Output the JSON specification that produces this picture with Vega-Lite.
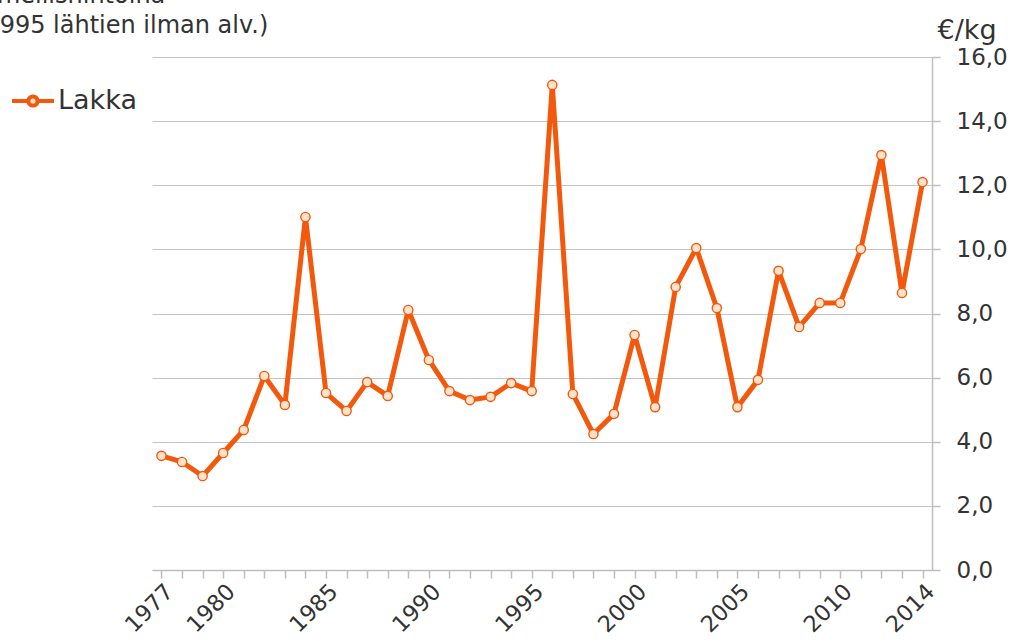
{
  "$schema": "https://vega.github.io/schema/vega-lite/v6.json",
  "autosize": {"type": "none"},
  "width": 780,
  "height": 513,
  "padding": {"left": 152, "top": 57, "right": 82, "bottom": 72},
  "background": "white",
  "config": {
    "font": "DejaVu Sans",
    "view": {"stroke": null}
  },
  "title": {
    "text": ["nimellishintoina", "(1995 lähtien ilman alv.)"],
    "anchor": "start",
    "frame": "group",
    "dx": -177,
    "offset": -22,
    "fontSize": 24,
    "fontWeight": "normal",
    "color": "#333333",
    "lineHeight": 30
  },
  "data": {
    "values": [
      {"year": 1977, "price": 3.56, "series": "Lakka"},
      {"year": 1978, "price": 3.37, "series": "Lakka"},
      {"year": 1979, "price": 2.93, "series": "Lakka"},
      {"year": 1980, "price": 3.65, "series": "Lakka"},
      {"year": 1981, "price": 4.37, "series": "Lakka"},
      {"year": 1982, "price": 6.05, "series": "Lakka"},
      {"year": 1983, "price": 5.15, "series": "Lakka"},
      {"year": 1984, "price": 11.01, "series": "Lakka"},
      {"year": 1985, "price": 5.52, "series": "Lakka"},
      {"year": 1986, "price": 4.96, "series": "Lakka"},
      {"year": 1987, "price": 5.86, "series": "Lakka"},
      {"year": 1988, "price": 5.43, "series": "Lakka"},
      {"year": 1989, "price": 8.11, "series": "Lakka"},
      {"year": 1990, "price": 6.55, "series": "Lakka"},
      {"year": 1991, "price": 5.58, "series": "Lakka"},
      {"year": 1992, "price": 5.30, "series": "Lakka"},
      {"year": 1993, "price": 5.40, "series": "Lakka"},
      {"year": 1994, "price": 5.83, "series": "Lakka"},
      {"year": 1995, "price": 5.58, "series": "Lakka"},
      {"year": 1996, "price": 15.13, "series": "Lakka"},
      {"year": 1997, "price": 5.49, "series": "Lakka"},
      {"year": 1998, "price": 4.24, "series": "Lakka"},
      {"year": 1999, "price": 4.87, "series": "Lakka"},
      {"year": 2000, "price": 7.33, "series": "Lakka"},
      {"year": 2001, "price": 5.08, "series": "Lakka"},
      {"year": 2002, "price": 8.83, "series": "Lakka"},
      {"year": 2003, "price": 10.04, "series": "Lakka"},
      {"year": 2004, "price": 8.17, "series": "Lakka"},
      {"year": 2005, "price": 5.08, "series": "Lakka"},
      {"year": 2006, "price": 5.93, "series": "Lakka"},
      {"year": 2007, "price": 9.33, "series": "Lakka"},
      {"year": 2008, "price": 7.58, "series": "Lakka"},
      {"year": 2009, "price": 8.33, "series": "Lakka"},
      {"year": 2010, "price": 8.33, "series": "Lakka"},
      {"year": 2011, "price": 10.01, "series": "Lakka"},
      {"year": 2012, "price": 12.94, "series": "Lakka"},
      {"year": 2013, "price": 8.64, "series": "Lakka"},
      {"year": 2014, "price": 12.10, "series": "Lakka"}
    ]
  },
  "encoding": {
    "x": {
      "field": "year",
      "type": "ordinal",
      "scale": {"type": "point", "padding": 0.46},
      "axis": {
        "title": null,
        "domainColor": "#bfbfbf",
        "domainWidth": 1.5,
        "tickColor": "#bfbfbf",
        "tickSize": 8,
        "tickWidth": 1.5,
        "labelAngle": -45,
        "labelAlign": "right",
        "labelBaseline": "top",
        "labelFontSize": 22.5,
        "labelColor": "#333333",
        "labelPadding": 2,
        "labelOverlap": false,
        "labelExpr": "(datum.value == 1977 || datum.value == 2014 || datum.value % 5 == 0) ? datum.label : ''"
      }
    },
    "y": {
      "field": "price",
      "type": "quantitative",
      "scale": {"domain": [0, 16], "nice": false, "zero": true},
      "axis": {
        "orient": "right",
        "values": [0, 2, 4, 6, 8, 10, 12, 14, 16],
        "title": "€/kg",
        "titleAngle": 0,
        "titleAlign": "left",
        "titleBaseline": "alphabetic",
        "titleX": 5,
        "titleY": -19,
        "titleFontSize": 27,
        "titleFontWeight": "normal",
        "titleColor": "#333333",
        "grid": true,
        "gridColor": "#c4c4c4",
        "gridWidth": 1.2,
        "domainColor": "#bfbfbf",
        "domainWidth": 1.5,
        "tickColor": "#bfbfbf",
        "tickSize": 8,
        "tickWidth": 1.5,
        "labelFontSize": 23,
        "labelColor": "#333333",
        "labelPadding": 16,
        "labelExpr": "replace(format(datum.value, '.1f'), '.', ',')"
      }
    }
  },
  "layer": [
    {
      "mark": {"type": "line", "strokeWidth": 5, "strokeJoin": "round"},
      "encoding": {
        "color": {
          "field": "series",
          "type": "nominal",
          "scale": {"range": ["#f2590c"]},
          "legend": {
            "title": null,
            "orient": "none",
            "legendX": -142,
            "legendY": 21,
            "symbolType": "M-1,0L-0.22,0M0.22,0L1,0M-0.22,0A0.22,0.22 0 1,0 0.22,0A0.22,0.22 0 1,0 -0.22,0",
            "symbolSize": 1764,
            "symbolStrokeWidth": 4,
            "symbolFillColor": "#fde3cc",
            "symbolStrokeColor": "#f2590c",
            "labelFontSize": 27,
            "labelColor": "#333333",
            "labelOffset": 2,
            "encode": {
              "symbols": {
                "update": {
                  "fill": {"value": "#fde3cc"},
                  "stroke": {"value": "#f2590c"},
                  "fillOpacity": {"value": 1},
                  "opacity": {"value": 1}
                }
              }
            }
          }
        }
      }
    },
    {
      "mark": {"type": "point", "filled": true, "shape": "circle", "size": 85, "fill": "#fde3cc", "stroke": "#f2590c", "strokeWidth": 1.4, "opacity": 1}
    }
  ]
}
